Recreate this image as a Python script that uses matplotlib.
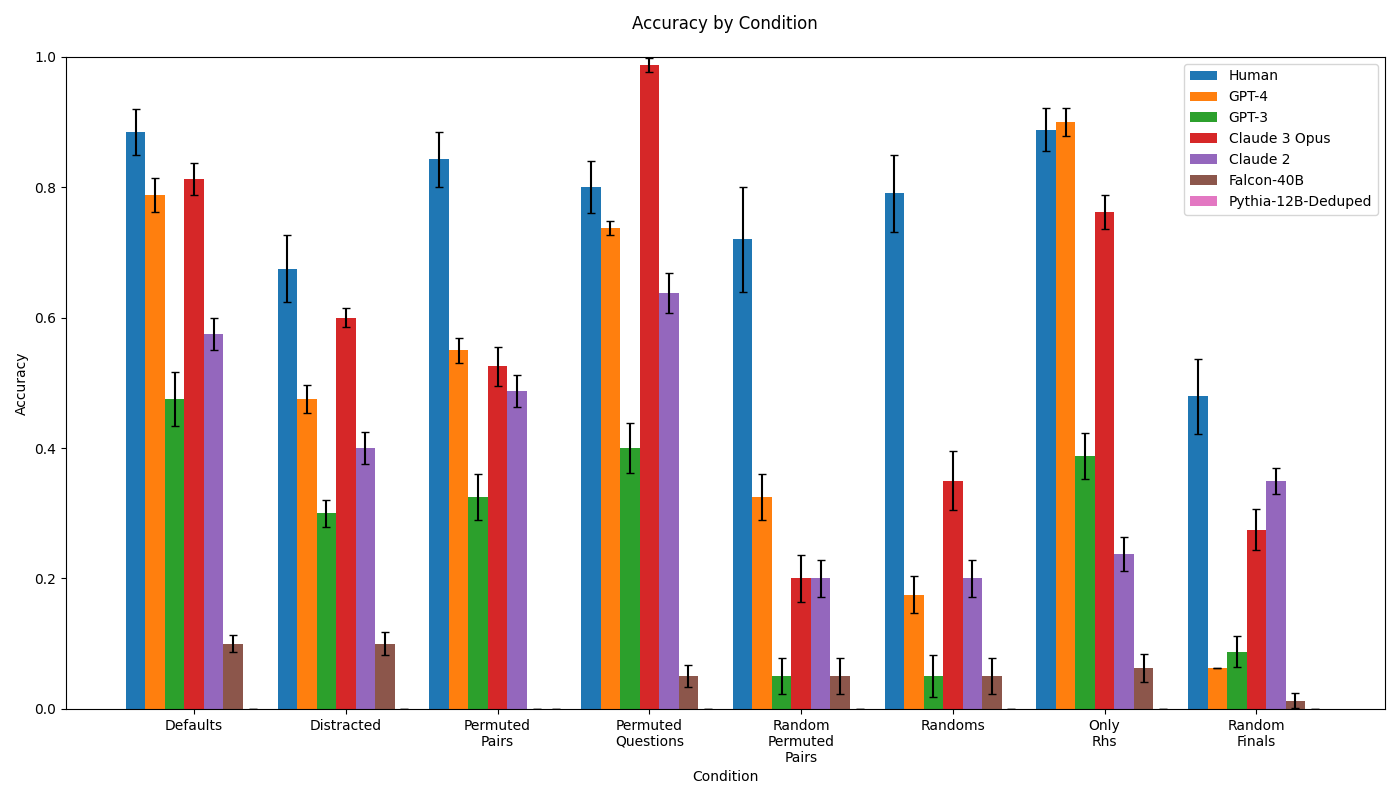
import numpy as np
import matplotlib.pyplot as plt

conditions = ["Defaults", "Distracted", "Permuted\nPairs", "Permuted\nQuestions",
              "Random\nPermuted\nPairs", "Randoms", "Only\nRhs", "Random\nFinals"]
models = ["Human", "GPT-4", "GPT-3", "Claude 3 Opus", "Claude 2", "Falcon-40B",
          "Pythia-12B-Deduped"]

human = [0.885, 0.675, 0.843, 0.800, 0.720, 0.791, 0.888, 0.479]
gpt4 = [0.7875, 0.475, 0.55, 0.7375, 0.325, 0.175, 0.900, 0.0625]
gpt3 = [0.475, 0.300, 0.325, 0.400, 0.050, 0.050, 0.3875, 0.0875]
claude3 = [0.8125, 0.600, 0.525, 0.9875, 0.200, 0.350, 0.7625, 0.275]
claude2 = [0.575, 0.400, 0.4875, 0.6375, 0.200, 0.200, 0.2375, 0.350]
falcon = [0.100, 0.100, 0.0, 0.050, 0.050, 0.050, 0.0625, 0.0125]
pythia = [0.0, 0.0, 0.0, 0.0, 0.0, 0.0, 0.0, 0.0]

human_err = [0.035, 0.051, 0.042, 0.040, 0.081, 0.059, 0.033, 0.057]
gpt4_err = [0.026, 0.021, 0.019, 0.011, 0.035, 0.028, 0.022, 0.0]
gpt3_err = [0.041, 0.021, 0.035, 0.038, 0.028, 0.032, 0.035, 0.024]
claude3_err = [0.025, 0.014, 0.030, 0.0105, 0.0355, 0.045, 0.026, 0.031]
claude2_err = [0.025, 0.024, 0.024, 0.031, 0.028, 0.028, 0.026, 0.020]
falcon_err = [0.0135, 0.018, 0.0, 0.017, 0.028, 0.028, 0.0215, 0.011]
pythia_err = [0.0, 0.0, 0.0, 0.0, 0.0, 0.0, 0.0, 0.0]

series = [human, gpt4, gpt3, claude3, claude2, falcon, pythia]
errors = [human_err, gpt4_err, gpt3_err, claude3_err, claude2_err, falcon_err, pythia_err]

x = np.arange(len(conditions))
width = 0.9 / len(models)

fig, ax = plt.subplots(figsize=(14, 8), dpi=100)
for i, (name, vals, errs) in enumerate(zip(models, series, errors)):
    offset = (i - (len(models) - 1) / 2) * width
    ax.bar(x + offset, vals, width, yerr=errs, capsize=3, label=name,
           error_kw=dict(ecolor="black", elinewidth=1.5))

ax.set_title("Accuracy by Condition", fontsize=12, pad=20)
ax.set_xlabel("Condition")
ax.set_ylabel("Accuracy")
ax.set_xticks(x)
ax.set_xticklabels(conditions)
ax.set_ylim(0, 1.0)
ax.legend(loc="upper right")

plt.subplots_adjust(left=0.047, right=0.989, top=0.929, bottom=0.114)
fig.savefig("out.png", dpi=100)
